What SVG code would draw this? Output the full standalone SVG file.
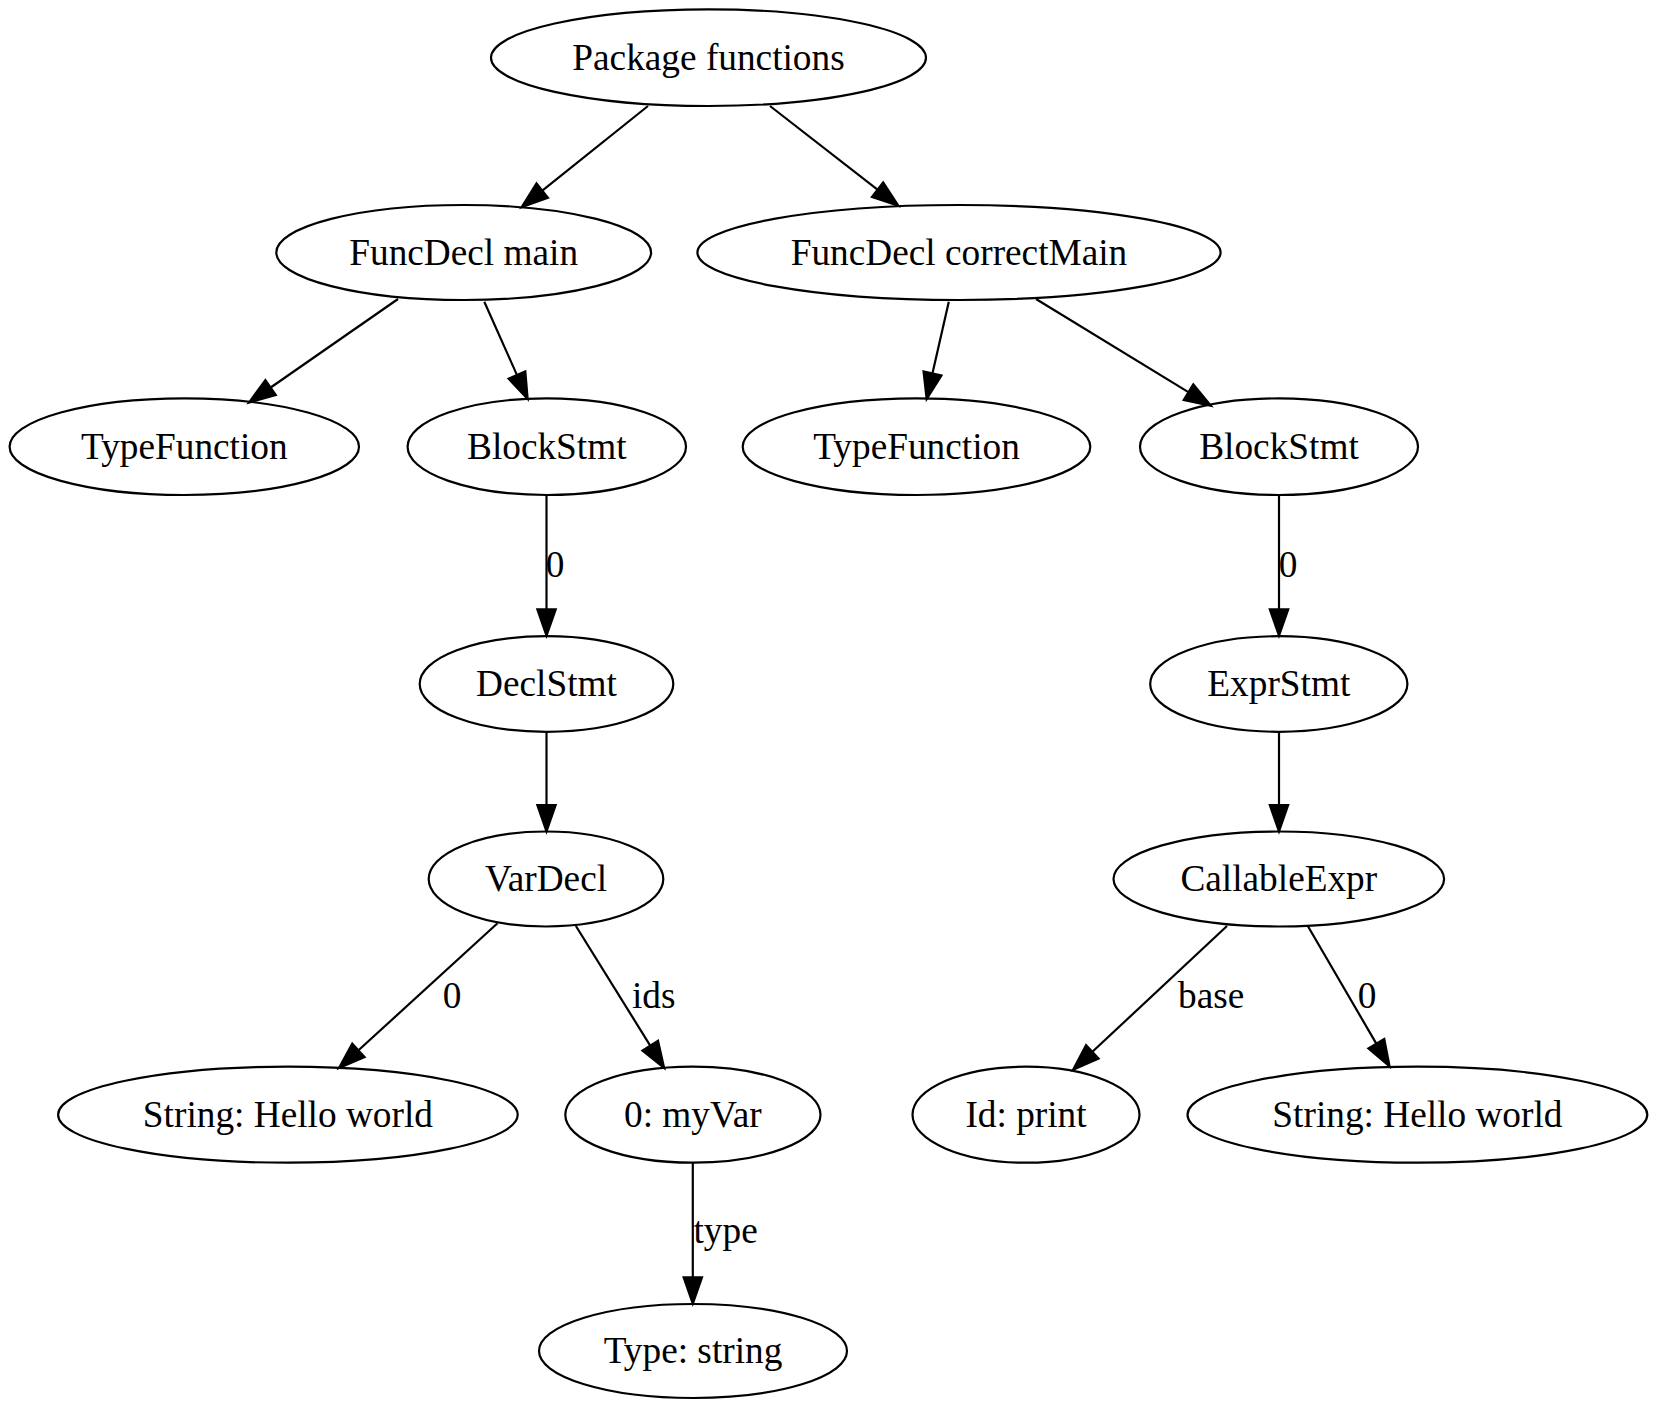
<svg xmlns="http://www.w3.org/2000/svg" width="1658" height="1410" viewBox="0 0 1658 1410">
<style>
.n ellipse{fill:none;stroke:#000;stroke-width:2.2}
text{font-family:"Liberation Serif","Times New Roman",serif;font-size:37.3px;fill:#000}
.n text{text-anchor:middle}
.e line{stroke:#000;stroke-width:2.2;marker-end:url(#ah)}
</style>
<defs>
<marker id="ah" markerUnits="userSpaceOnUse" markerWidth="30" markerHeight="22" refX="0" refY="0" orient="auto" overflow="visible">
<path d="M0,-9.3 L26.7,0 L0,9.3 Z" fill="#000" stroke="#000" stroke-width="2"/>
</marker>
</defs>
<rect width="1658" height="1410" fill="#fff"/>
<g id="edges" class="e">
<line x1="648" y1="106" x2="542.3" y2="190.6"/>
<line x1="770" y1="106" x2="877.5" y2="189.6"/>
<line x1="398" y1="299" x2="270.7" y2="387.5"/>
<line x1="484.3" y1="301.7" x2="516.9" y2="374.9"/>
<line x1="948.8" y1="301.7" x2="932.5" y2="373.3"/>
<line x1="1036" y1="299" x2="1188.4" y2="392.1"/>
<line x1="546.5" y1="495" x2="546.5" y2="609.3"/>
<line x1="546.5" y1="731.7" x2="546.5" y2="805"/>
<line x1="497.5" y1="923.3" x2="358.5" y2="1050.3"/>
<line x1="575.9" y1="926" x2="650.2" y2="1045.6"/>
<line x1="692.8" y1="1162.7" x2="692.8" y2="1277.3"/>
<line x1="1279" y1="495" x2="1279" y2="609.3"/>
<line x1="1279" y1="731.7" x2="1279" y2="805"/>
<line x1="1227" y1="926" x2="1092.4" y2="1051.8"/>
<line x1="1307.8" y1="926" x2="1376.3" y2="1043.6"/>
<text x="555" y="577" text-anchor="middle">0</text>
<text x="1288" y="577" text-anchor="middle">0</text>
<text x="452" y="1008" text-anchor="middle">0</text>
<text x="632" y="1008">ids</text>
<text x="1178" y="1008">base</text>
<text x="1367" y="1008" text-anchor="middle">0</text>
<text x="693.5" y="1243">type</text>
</g>
<g id="n_pkg" class="n"><ellipse cx="708.5" cy="57.7" rx="217.5" ry="48.3"/><text x="708.5" y="70">Package functions</text></g>
<g id="n_main" class="n"><ellipse cx="463.7" cy="252.5" rx="187.4" ry="47.5"/><text x="463.7" y="264.5">FuncDecl main</text></g>
<g id="n_cmain" class="n"><ellipse cx="959" cy="252.5" rx="261.6" ry="47.5"/><text x="959" y="264.5">FuncDecl correctMain</text></g>
<g id="n_tf1" class="n"><ellipse cx="184.3" cy="446.7" rx="174.7" ry="48.3"/><text x="184.3" y="458.7">TypeFunction</text></g>
<g id="n_bs1" class="n"><ellipse cx="546.8" cy="446.7" rx="139.2" ry="48.3"/><text x="546.8" y="458.7">BlockStmt</text></g>
<g id="n_tf2" class="n"><ellipse cx="916.5" cy="446.7" rx="173.8" ry="48.3"/><text x="916.5" y="458.7">TypeFunction</text></g>
<g id="n_bs2" class="n"><ellipse cx="1279" cy="446.7" rx="139" ry="48.3"/><text x="1279" y="458.7">BlockStmt</text></g>
<g id="n_decl" class="n"><ellipse cx="546.5" cy="684" rx="126.8" ry="47.8"/><text x="546.5" y="696">DeclStmt</text></g>
<g id="n_expr" class="n"><ellipse cx="1278.8" cy="684" rx="128.6" ry="47.8"/><text x="1278.8" y="696">ExprStmt</text></g>
<g id="n_var" class="n"><ellipse cx="546" cy="879" rx="117.3" ry="47.5"/><text x="546" y="891">VarDecl</text></g>
<g id="n_call" class="n"><ellipse cx="1278.8" cy="879" rx="165.3" ry="47.5"/><text x="1278.8" y="891">CallableExpr</text></g>
<g id="n_str1" class="n"><ellipse cx="287.9" cy="1114.7" rx="229.8" ry="48"/><text x="287.9" y="1126.7">String: Hello world</text></g>
<g id="n_myvar" class="n"><ellipse cx="692.9" cy="1114.7" rx="127.6" ry="48"/><text x="692.9" y="1126.7">0: myVar</text></g>
<g id="n_id" class="n"><ellipse cx="1026" cy="1114.7" rx="113.5" ry="48"/><text x="1026" y="1126.7">Id: print</text></g>
<g id="n_str2" class="n"><ellipse cx="1417.4" cy="1114.7" rx="229.9" ry="48"/><text x="1417.4" y="1126.7">String: Hello world</text></g>
<g id="n_type" class="n"><ellipse cx="693" cy="1351" rx="154" ry="47"/><text x="693" y="1363">Type: string</text></g>
</svg>
